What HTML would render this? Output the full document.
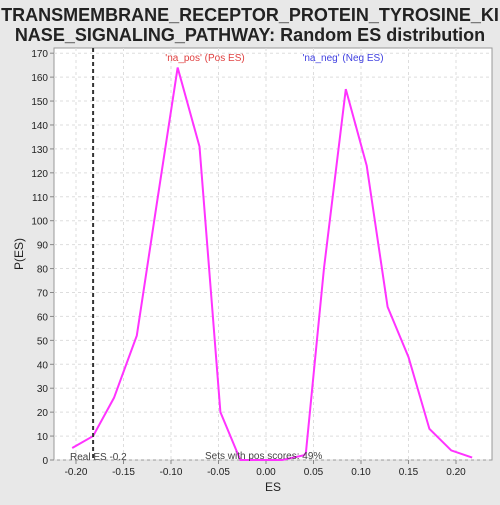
<!DOCTYPE html>
<html><head><meta charset="utf-8"><style>
body{margin:0;background:#e8e8e8;width:500px;height:500px;overflow:hidden;font-family:"Liberation Sans",sans-serif}
</style></head><body>
<svg width="500" height="500">
<text x="250" y="21" text-anchor="middle" font-size="18" font-weight="bold" fill="#222">TRANSMEMBRANE_RECEPTOR_PROTEIN_TYROSINE_KI</text>
<text x="250" y="41" text-anchor="middle" font-size="18" font-weight="bold" fill="#222">NASE_SIGNALING_PATHWAY: Random ES distribution</text>
<rect x="54" y="48" width="438" height="412" fill="#fff" stroke="#999"/>
<g id="grid"></g><g id="axes"></g>
<text x="273" y="491" text-anchor="middle" font-size="12" fill="#222">ES</text>
<text x="23" y="254" text-anchor="middle" font-size="12" fill="#222" transform="rotate(-90 23 254)">P(ES)</text>
<text x="205" y="61" text-anchor="middle" font-size="10" fill="#e04040">'na_pos' (Pos ES)</text>
<text x="343" y="61" text-anchor="middle" font-size="10" fill="#4040e0">'na_neg' (Neg ES)</text>
<g id="marks"></g>
<text x="70" y="460" font-size="10" fill="#444">Real ES -0.2</text>
<text x="205" y="459" font-size="10" fill="#444">Sets with pos scores: 49%</text>
</svg>
<script>
const esValues=[-0.204,-0.182,-0.16,-0.136,-0.115,-0.093,-0.07,-0.048,-0.027,0.017,0.04,0.042,0.061,0.084,0.106,0.128,0.15,0.172,0.195,0.217];
const probValues=[5,10,26,52,107,164,131,20,0,0,2,3,80,155,123,64,43,13,4,1];
const xTicks=[-0.20,-0.15,-0.10,-0.05,0.00,0.05,0.10,0.15,0.20];
const xTickLabels=["-0.20","-0.15","-0.10","-0.05","0.00","0.05","0.10","0.15","0.20"];
const yTicks=[0,10,20,30,40,50,60,70,80,90,100,110,120,130,140,150,160,170];
const realES=-0.182;
const X=v=>266+v*950, Y=v=>460-v*2.393;
const ns="http://www.w3.org/2000/svg";
const g=document.getElementById('grid'),a=document.getElementById('axes'),m=document.getElementById('marks');
function mk(t,at,p){const e=document.createElementNS(ns,t);for(const k in at)e.setAttribute(k,at[k]);p.appendChild(e);return e;}
xTicks.forEach((t,i)=>{
 const l=mk('line',{x1:X(t),x2:X(t),y1:48,y2:460,stroke:'#ddd','stroke-dasharray':'3,3'},g);
 
 
 mk('line',{x1:X(t),x2:X(t),y1:460,y2:464,stroke:'#888'},a);
 const tx=mk('text',{x:X(t),y:475,'text-anchor':'middle','font-size':10,fill:'#222'},a);tx.textContent=xTickLabels[i];
 
 
});
yTicks.forEach(t=>{
 const l=mk('line',{x1:54,x2:492,y1:Y(t),y2:Y(t),stroke:'#ddd','stroke-dasharray':'3,3'},g);
 
 
 mk('line',{x1:50,x2:54,y1:Y(t),y2:Y(t),stroke:'#888'},a);
 const tx=mk('text',{x:48,y:Y(t)+4,'text-anchor':'end','font-size':10,fill:'#222'},a);tx.textContent=t;
 
 
});
const pl=mk('polyline',{points:esValues.map((v,i)=>X(v)+','+Y(probValues[i])).join(' '),fill:'none',stroke:'#ff33ff','stroke-width':2},m);


const rl=mk('line',{x1:X(realES),x2:X(realES),y1:48,y2:460,stroke:'#333','stroke-width':2,'stroke-dasharray':'4,3'},m);


</script>
</body></html>
